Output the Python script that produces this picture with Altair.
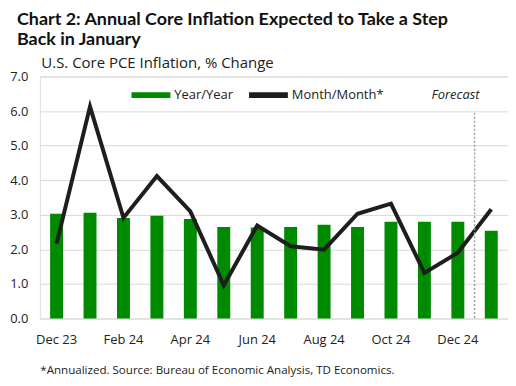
import altair as alt
import pandas as pd

months = ["Dec 23", "Jan 24", "Feb 24", "Mar 24", "Apr 24", "May 24", "Jun 24",
          "Jul 24", "Aug 24", "Sep 24", "Oct 24", "Nov 24", "Dec 24", "Jan 25"]
yoy = [3.03, 3.06, 2.91, 2.97, 2.88, 2.65, 2.63, 2.65, 2.71, 2.65, 2.80, 2.80, 2.80, 2.54]
mom = [2.17, 6.13, 2.91, 4.12, 3.10, 0.96, 2.69, 2.09, 1.99, 3.03, 3.32, 1.32, 1.90, 3.16]
tick_labels = ["Dec 23", "Feb 24", "Apr 24", "Jun 24", "Aug 24", "Oct 24", "Dec 24"]
y_ticks = [0, 1, 2, 3, 4, 5, 6, 7]
series_names = ["Year/Year", "Month/Month*"]
series_colors = ["#008a00", "#1e1e1e"]
forecast_start = "Jan 25"

FONT = "Open Sans"
TITLE_FONT = "Lato"

bars_df = pd.DataFrame({"month": months, "value": yoy, "series": series_names[0]})
line_df = pd.DataFrame({"month": months, "value": mom, "series": series_names[1]})

x_axis = alt.Axis(values=tick_labels, labelAngle=0, ticks=False, domain=False,
                  labelPadding=15, labelFontSize=13, labelColor="#222",
                  labelFont=FONT, grid=False,
                  title="*Annualized. Source: Bureau of Economic Analysis, TD Economics.",
                  titleAnchor="start", titleAlign="left", titleX=0, titleY=55,
                  titleBaseline="alphabetic",
                  titleFontSize=11.6, titleFontWeight="normal", titleFont=FONT,
                  titleColor="#222")
x_scale = alt.Scale(paddingInner=0, paddingOuter=0)

y_axis = alt.Axis(values=y_ticks, format=".1f", ticks=False, labelOverlap=False,
                  domain=False, labelPadding=12, labelFontSize=13,
                  labelColor="#222", labelFont=FONT, grid=True,
                  gridColor="#d9d9d9", gridWidth=1,
                  title="U.S. Core PCE Inflation, % Change", titleAngle=0,
                  titleAlign="left", titleBaseline="alphabetic",
                  titleX=1, titleY=-9, titleFontSize=15,
                  titleFontWeight="normal", titleFont=FONT, titleColor="#222")
y_scale = alt.Scale(domain=[0, 7], nice=False)


def xe(field="month:N", **kw):
    return alt.X(field, sort=months, scale=x_scale, axis=x_axis, **kw)


def ye(field):
    return alt.Y(field, scale=y_scale, axis=y_axis)


color_enc = alt.Color("series:N",
                      scale=alt.Scale(domain=series_names, range=series_colors),
                      legend=alt.Legend(title=None, orient="none", direction="horizontal",
                                        legendX=92, legendY=-1,
                                        symbolType="M-1,-0.15H1V0.15H-1Z",
                                        symbolSize=1521, symbolStrokeWidth=0,
                                        symbolOpacity=1,
                                        labelFontSize=13, labelFont=FONT,
                                        labelColor="#222", columnPadding=16,
                                        labelOffset=4))

bars = alt.Chart(bars_df).mark_bar(size=13).encode(x=xe(), y=ye("value:Q"), color=color_enc)
line = alt.Chart(line_df).mark_line(strokeWidth=4, strokeJoin="miter").encode(
    x=xe(), y=ye("value:Q"), color=color_enc)

rule_df = pd.DataFrame({"month": [forecast_start], "value": [5.95], "bottom": [0.0],
                        "label": ["Forecast"], "ly": [6.47]})
rule = alt.Chart(rule_df).mark_rule(color="#a0a0a0", strokeDash=[2, 2], strokeWidth=1.5).encode(
    x=xe(bandPosition=0), y=ye("value:Q"), y2="bottom:Q")
ftext = alt.Chart(rule_df).mark_text(align="right", baseline="middle", fontStyle="italic",
                                     fontSize=13, font=FONT, color="#222", dx=5).encode(
    x=xe(bandPosition=0), y=ye("ly:Q"), text="label:N")

chart = alt.layer(bars, line, rule, ftext).properties(
    width=470, height=243,
    title=alt.TitleParams(
        text=["Chart 2: Annual Core Inflation Expected to Take a Step", "Back in January"],
        anchor="start", frame="group", dx=-23, offset=7, fontSize=18, font=TITLE_FONT,
        fontWeight="bold", color="#111", lineHeight=20),
    autosize=alt.AutoSizeParams(type="none"),
    padding={"left": 32, "top": 68, "right": 0, "bottom": 62},
).configure_view(stroke=None).configure(background="white")

chart.save("out.html", embed_options={"renderer": "svg", "actions": False})
